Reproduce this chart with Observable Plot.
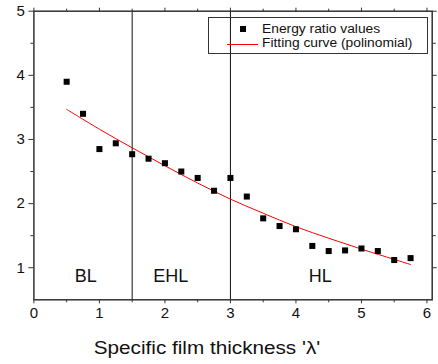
<!DOCTYPE html>
<html>
<head>
<meta charset="utf-8">
<script src="https://cdn.jsdelivr.net/npm/d3@7"></script>
<script src="https://cdn.jsdelivr.net/npm/@observablehq/plot@0.6"></script>
<style>
  html, body { margin: 0; padding: 0; background: #fff; }
  #wrap { position: relative; width: 438px; height: 364px; font-family: "Liberation Sans", Arial, sans-serif; }
  #chart svg g[aria-label="x-axis tick label"] text,
  #chart svg g[aria-label="y-axis tick label"] text { font-size: 15px !important; fill: #111; }
  #legend { position: absolute; left: 208px; top: 17px; width: 220px; height: 37px; border: 1px solid #333; box-sizing: border-box; font-size: 12px; color: #111; }
  .row { position: absolute; left: 0; width: 100%; height: 14px; line-height: 14px; }
  .txt { position: absolute; left: 53px; top: 0; white-space: nowrap; transform-origin: left center; transform: scaleX(1.15); }
  #xtitle { position: absolute; left: 206.5px; top: 338px; height: 20px; line-height: 20px; font-size: 18px; color: #111; white-space: nowrap; transform: translateX(-50%) scaleX(1.15); }
</style>
</head>
<body>
<div id="wrap">
  <div id="chart"></div>
  <div id="legend">
    <div class="row" style="top:4px">
      <svg width="52" height="14" style="position:absolute;left:0;top:0"><rect x="31" y="4" width="6" height="6" fill="#000"></rect></svg>
      <span class="txt" id="leg1"></span>
    </div>
    <div class="row" style="top:18px">
      <svg width="52" height="14" style="position:absolute;left:0;top:0"><line x1="18" x2="49" y1="8.5" y2="8.5" stroke="#ff0000" stroke-width="1"></line></svg>
      <span class="txt" id="leg2"></span>
    </div>
  </div>
  <div id="xtitle"></div>
</div>
<script>
// Measured points: specific film thickness (λ) vs energy ratio
const lambdaValues = [0.5, 0.75, 1.0, 1.25, 1.5, 1.75, 2.0, 2.25, 2.5, 2.75, 3.0, 3.25, 3.5, 3.75, 4.0, 4.25, 4.5, 4.75, 5.0, 5.25, 5.5, 5.75];
const energyRatio  = [3.90, 3.40, 2.85, 2.94, 2.77, 2.70, 2.63, 2.50, 2.40, 2.20, 2.40, 2.11, 1.77, 1.65, 1.60, 1.34, 1.26, 1.27, 1.30, 1.26, 1.12, 1.15];

// Fitting curve
const fitX = [0.5, 1.0, 1.5, 2.0, 2.5, 3.0, 3.5, 4.0, 4.5, 5.0, 5.5, 5.75];
const fitY = [3.47, 3.16, 2.87, 2.59, 2.32, 2.07, 1.85, 1.64, 1.46, 1.29, 1.13, 1.05];

// Regime boundaries and labels
const boundaries = [1.5, 3.0];
const regionNames = ["BL", "EHL", "HL"];
const regionX = [0.79, 2.09, 4.37];
const regionY = [0.86, 0.86, 0.86];

// Ticks
const xTicks = [0, 1, 2, 3, 4, 5, 6];
const xMinor = [0.5, 1.5, 2.5, 3.5, 4.5, 5.5];
const yTicks = [1, 2, 3, 4, 5];
const yMinor = [1.5, 2.5, 3.5, 4.5];

// Texts
const legendLabels = ["Energy ratio values", "Fitting curve (polinomial)"];
const xTitle = "Specific film thickness 'λ'";

document.getElementById("leg1").textContent = legendLabels[0];
document.getElementById("leg2").textContent = legendLabels[1];
document.getElementById("xtitle").textContent = xTitle;

const points = lambdaValues.map((x, i) => ({x, y: energyRatio[i]}));
const fit = fitX.map((x, i) => ({x, y: fitY[i]}));
const regions = regionNames.map((name, i) => ({name, x: regionX[i], y: regionY[i]}));

const axisColor = "#333";
const blank = () => "";
const intFmt = d3.format("d");

const chart = Plot.plot({
  width: 438,
  height: 364,
  marginLeft: 33.4,
  marginRight: 6.3,
  marginTop: 10.7,
  marginBottom: 64.7,
  style: "font-family: 'Liberation Sans', Arial, sans-serif; font-size: 15px; color: #111; background: #fff;",
  x: {domain: [0, 6.08]},
  y: {domain: [0.5, 5]},
  marks: [
    Plot.ruleX(boundaries, {stroke: "#111", strokeWidth: 1}),
    Plot.line(fit, {x: "x", y: "y", stroke: "#ff0000", strokeWidth: 1, curve: "catmull-rom"}),
    Plot.dot(points, {x: "x", y: "y", symbol: "square", r: 3.4, fill: "#000", stroke: "none"}),
    Plot.text(regions, {x: "x", y: "y", text: "name", fontSize: 18, fill: "#111", style: "letter-spacing:1.3px"}),
    Plot.axisX({ticks: xTicks, tickSize: 4, tickPadding: 4, tickFormat: intFmt, stroke: axisColor, label: null}),
    Plot.axisX({ticks: xMinor, tickSize: 3, tickFormat: blank, stroke: axisColor, label: null}),
    Plot.axisX({anchor: "top", ticks: xTicks, tickSize: 4, tickFormat: blank, stroke: axisColor, label: null}),
    Plot.axisX({anchor: "top", ticks: xMinor, tickSize: 3, tickFormat: blank, stroke: axisColor, label: null}),
    Plot.axisY({ticks: yTicks, tickSize: 5, tickPadding: 4, tickFormat: intFmt, stroke: axisColor, label: null}),
    Plot.axisY({ticks: yMinor, tickSize: 3, tickFormat: blank, stroke: axisColor, label: null}),
    Plot.axisY({anchor: "right", ticks: yTicks, tickSize: 4, tickFormat: blank, stroke: axisColor, label: null}),
    Plot.axisY({anchor: "right", ticks: yMinor, tickSize: 3, tickFormat: blank, stroke: axisColor, label: null}),
    Plot.frame({stroke: axisColor, strokeWidth: 1.5})
  ]
});
document.getElementById("chart").appendChild(chart);
</script>
</body>
</html>
